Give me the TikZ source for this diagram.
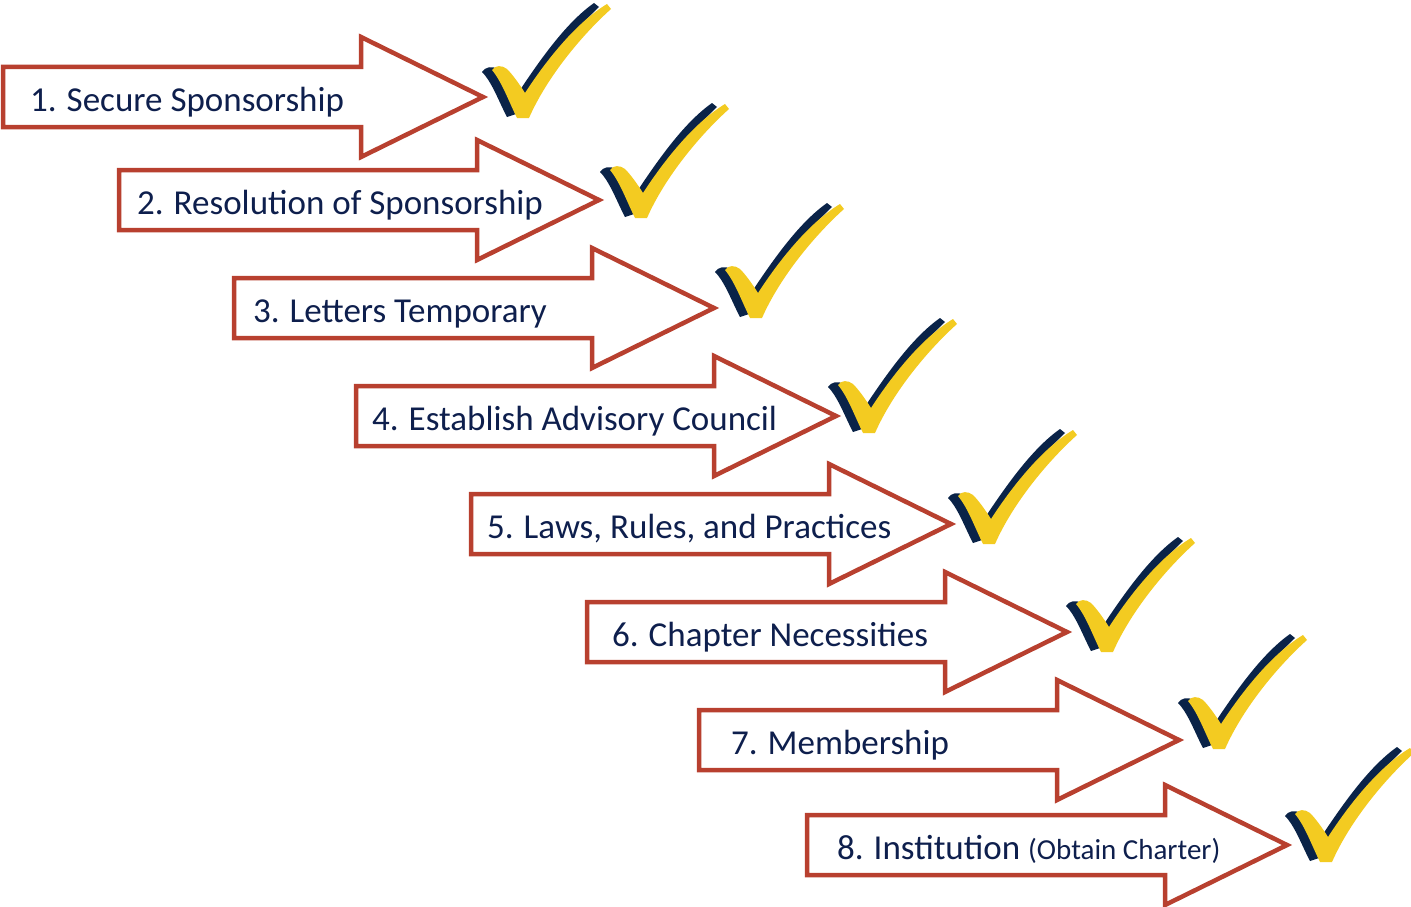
\documentclass[tikz,border=0pt]{standalone}
\usepackage{fontspec}
\setmainfont{Carlito}
\definecolor{arrowred}{HTML}{B8402F}
\definecolor{stepnavy}{HTML}{0E1F4D}
\definecolor{ticknavy}{HTML}{0A2348}
\definecolor{tickgold}{HTML}{F3CB21}
\tikzset{
  steparrow/.style={draw=arrowred, line width=4.5pt, line join=miter, fill=white},
  steplabel/.style={anchor=base west, inner sep=0pt, text=stepnavy, font=\fontsize{35}{42}\selectfont},
}
% brush-stroke tick mark, origin at the bottom of the dark stroke (y points down)
\newcommand{\ticksign}[2]{%
  \begin{scope}[shift={(#1,#2)}]
    \fill[ticknavy] (0,0) .. controls (-8,-15) and (-15,-35) .. (-25,-45)
      .. controls (-22,-50) and (-15,-52) .. (-8,-47)
      .. controls (0,-42) and (8,-32) .. (13,-27)
      .. controls (35,-60) and (60,-95) .. (87,-114)
      -- (92,-110)
      .. controls (60,-80) and (30,-40) .. (12,-4) -- cycle;
    \fill[tickgold] (10,1) .. controls (2,-15) and (-5,-35) .. (-15,-47)
      .. controls (-12,-52) and (-5,-52) .. (0,-48)
      .. controls (6,-42) and (13,-32) .. (18,-24)
      .. controls (40,-58) and (70,-95) .. (100,-113)
      -- (104,-108)
      .. controls (75,-82) and (40,-40) .. (22,1) -- cycle;
  \end{scope}}
\begin{document}
\begin{tikzpicture}[x=1pt, y=-1pt]
  \useasboundingbox (0,0) rectangle (1411,907);
  % left edge, centre line, label indent, tick position
  \foreach \n/\lx/\cy/\ti/\tx/\ty/\txt in {
    1/3/97/27/507/117/{1.\hspace{10pt}Secure Sponsorship},
    2/119/200/18/625/217/{2.\hspace{10pt}Resolution of Sponsorship},
    3/234/308/19/740/317/{3.\hspace{10pt}Letters Temporary},
    4/356/416/16/853/432/{4.\hspace{10pt}Establish Advisory Council},
    5/471/524/16/973/543/{5.\hspace{10pt}Laws, Rules, and Practices},
    6/587/632/25/1091/651/{6.\hspace{10pt}Chapter Necessities},
    7/699/740/32/1203/748/{7.\hspace{10pt}Membership},
    8/807/845/30/1310/861/{8.\hspace{10pt}Institution {\fontsize{29}{34}\selectfont(Obtain Charter)}}} {
    \draw[steparrow] (\lx,\cy-30) -- ++(358,0) -- ++(0,-30)
      -- (\lx+480,\cy) -- (\lx+358,\cy+60) -- ++(0,-30) -- (\lx,\cy+30) -- cycle;
    \node[steplabel] (step\n) at (\lx+\ti,\cy+14) {\txt};
    \ticksign{\tx}{\ty}
  }
\end{tikzpicture}
\end{document}
